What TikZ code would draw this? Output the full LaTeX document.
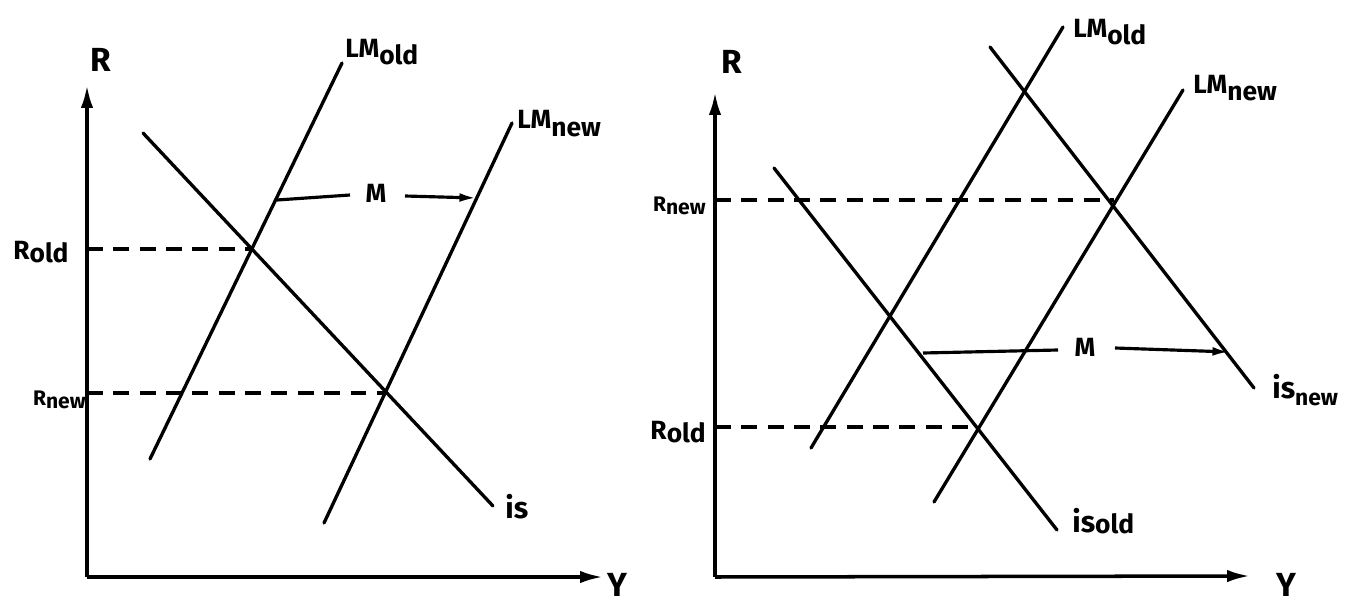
\documentclass[tikz,border=0pt]{standalone}
\usepackage{fontspec}
\setmainfont{Fira Sans}
\usetikzlibrary{arrows.meta}
\newcommand{\lowsub}[2]{\raisebox{-#1}{#2}}
\begin{document}
\begin{tikzpicture}[x=0.02cm,y=-0.02cm,
  curve/.style={line width=1.9pt, line cap=round},
  axis/.style={line width=2pt, -{Latex[length=13pt,width=7pt]}},
  guide/.style={line width=2pt, dash pattern=on 9pt off 6pt},
  shiftline/.style={line width=1.8pt},
  shiftarrow/.style={line width=1.8pt, -{Latex[length=10pt,width=5pt]}},
  lbl/.style={inner sep=0pt, font=\fontsize{15}{15}\selectfont\bfseries},
  small lbl/.style={inner sep=0pt, font=\fontsize{12}{12}\selectfont\bfseries},
  axlbl/.style={inner sep=0pt, font=\fontsize{19}{19}\selectfont\bfseries},
]
\useasboundingbox (0,0) rectangle (1367,605);

% ---------------- left panel ----------------
\coordinate (lO) at (87,577);
\coordinate (lYt) at (87,85);
\coordinate (lXt) at (603,577);
\draw[axis] (lO) -- (lYt);
\draw[axis] (lO) -- (lXt);
\node[axlbl] (lR) at (101,60) {R};
\node[axlbl] (lY) at (617,585) {Y};

\coordinate (lLMoA) at (150,459);
\coordinate (lLMoB) at (342,63);
\coordinate (lLMnA) at (324,523);
\coordinate (lLMnB) at (512,123);
\coordinate (lISA) at (143,133);
\coordinate (lISB) at (493,506);
\draw[curve] (lLMoA) -- (lLMoB);
\draw[curve] (lLMnA) -- (lLMnB);
\draw[curve] (lISA) -- (lISB);

\coordinate (lRoA) at (87,249);
\coordinate (lRoB) at (252,249);
\coordinate (lRnA) at (87,393);
\coordinate (lRnB) at (386,393);
\draw[guide] (lRoA) -- (lRoB);
\draw[guide] (lRnA) -- (lRnB);

\node[lbl, anchor=base west] (lLMo) at (345,57) {LM\lowsub{4pt}{old}};
\node[lbl, anchor=base west] (lLMn) at (517,128) {LM\lowsub{5pt}{new}};
\node[lbl, anchor=base west, font=\fontsize{17}{17}\selectfont\bfseries] (lIS) at (505,518) {is};
\node[lbl, anchor=base west] (lRo) at (13,259) {R\lowsub{2pt}{old}};
\node[small lbl, anchor=east] (lRn) at (86,400) {R\lowsub{2pt}{new}};

\node[lbl] (lM) at (376,193) {M};
\coordinate (lMa) at (277,200);
\coordinate (lMb) at (350,195);
\coordinate (lMc) at (405,196);
\coordinate (lMd) at (477,198);
\draw[shiftline] (lMa) -- (lMb);
\draw[shiftarrow] (lMc) -- (lMd);

% ---------------- right panel ----------------
\coordinate (rO) at (715,577);
\coordinate (rYt) at (715,92);
\coordinate (rXt) at (1250,576);
\draw[axis] (rO) -- (rYt);
\draw[axis] (rO) -- (rXt);
\node[axlbl] (rR) at (732,62) {R};
\node[axlbl] (rY) at (1286,585) {Y};

\coordinate (rLMoA) at (811,448);
\coordinate (rLMoB) at (1063,27);
\coordinate (rLMnA) at (934,502);
\coordinate (rLMnB) at (1183,90);
\coordinate (rISoA) at (774,168);
\coordinate (rISoB) at (1057,530);
\coordinate (rISnA) at (990,47);
\coordinate (rISnB) at (1254,388);
\draw[curve] (rLMoA) -- (rLMoB);
\draw[curve] (rLMnA) -- (rLMnB);
\draw[curve] (rISoA) -- (rISoB);
\draw[curve] (rISnA) -- (rISnB);

\coordinate (rRnA) at (715,200);
\coordinate (rRnB) at (1114,200);
\coordinate (rRoA) at (715,427);
\coordinate (rRoB) at (978,427);
\draw[guide] (rRnA) -- (rRnB);
\draw[guide] (rRoA) -- (rRoB);

\node[lbl, anchor=base west] (rLMo) at (1073,37) {LM\lowsub{4pt}{old}};
\node[lbl, anchor=base west] (rLMn) at (1193,93) {LM\lowsub{4pt}{new}};
\node[lbl, anchor=base west, font=\fontsize{17}{17}\selectfont\bfseries] (rISo) at (1072,532) {is\lowsub{1pt}{\fontsize{15}{15}\selectfont old}};
\node[lbl, anchor=base west, font=\fontsize{17}{17}\selectfont\bfseries] (rISn) at (1272,398) {is\lowsub{4pt}{\fontsize{13}{13}\selectfont new}};
\node[small lbl, anchor=east] (rRn) at (706,206) {R\lowsub{2pt}{new}};
\node[lbl, anchor=east] (rRo) at (706,432) {R\lowsub{2pt}{old}};

\node[lbl] (rM) at (1085,347) {M};
\coordinate (rMa) at (923,353);
\coordinate (rMb) at (1058,350);
\coordinate (rMc) at (1115,348);
\coordinate (rMd) at (1230,352);
\draw[shiftline] (rMa) -- (rMb);
\draw[shiftarrow] (rMc) -- (rMd);
\end{tikzpicture}
\end{document}
